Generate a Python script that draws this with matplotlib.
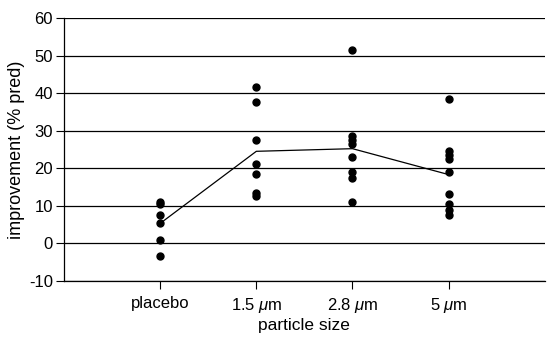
import matplotlib
matplotlib.use("Agg")
import matplotlib.pyplot as plt

plt.rcParams['font.family'] = ['Liberation Sans', 'DejaVu Sans']
plt.rcParams['mathtext.fontset'] = 'custom'
plt.rcParams['mathtext.it'] = 'Liberation Sans:italic'
plt.rcParams['mathtext.rm'] = 'Liberation Sans'
plt.rcParams['axes.unicode_minus'] = False

categories = ["placebo", r"1.5 $\mathit{\mu}$m", r"2.8 $\mathit{\mu}$m", r"5 $\mathit{\mu}$m"]
placebo = [11, 10.5, 7.5, 5.5, 1, -3.5]
um15 = [41.5, 37.5, 27.5, 21, 18.5, 13.5, 12.5]
um28 = [51.5, 28.5, 27.5, 26.5, 23, 19, 17.5, 11]
um5 = [38.5, 24.5, 23.5, 22.5, 19, 13, 10.5, 9, 7.5]
means = [5.3, 24.5, 25.2, 18.3]
yticks = [-10, 0, 10, 20, 30, 40, 50, 60]

groups = [placebo, um15, um28, um5]
positions = [1, 2, 3, 4]

fig = plt.figure(figsize=(5.47, 3.4), dpi=100)
ax = fig.add_axes([0.117, 0.174, 0.879, 0.773])

for y in yticks:
    ax.axhline(y, color='black', linewidth=0.9, zorder=1)

for pos, vals in zip(positions, groups):
    ax.plot([pos] * len(vals), vals, 'o', color='black', markersize=5, zorder=3)

ax.plot(positions, means, '-', color='black', linewidth=0.9, zorder=2)

ax.set_xlim(0, 5)
ax.set_ylim(-10, 60)
ax.set_yticks(yticks)
ax.set_xticks(positions)
ax.set_xticklabels(categories)
ax.tick_params(axis='both', labelsize=12, direction='out', length=6, width=0.8, color='black')
ax.tick_params(axis='x', pad=5)
ax.tick_params(axis='y', pad=2)
for s in ['top', 'right']:
    ax.spines[s].set_visible(False)
ax.spines['left'].set_linewidth(0.9)
ax.spines['bottom'].set_linewidth(0.9)

ax.set_ylabel("improvement (% pred)", fontsize=13, labelpad=3)
ax.set_xlabel("particle size", fontsize=12.5, labelpad=2)

fig.savefig("out.png", dpi=100)
